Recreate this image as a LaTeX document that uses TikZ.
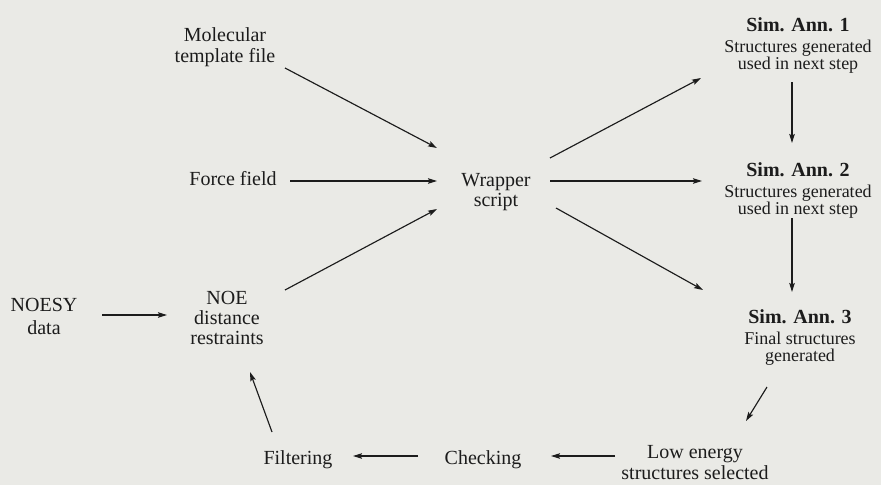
\documentclass[tikz,border=0pt]{standalone}
\usepackage{fontspec}
\setmainfont{Liberation Serif}
\usetikzlibrary{arrows.meta,calc}
\definecolor{paper}{RGB}{234,234,230}
\definecolor{ink}{RGB}{28,28,28}
% bold heading line of a simulated-annealing stage
\newcommand\simhead[1]{{\fontsize{20}{17}\selectfont\bfseries #1}\\[4pt]}
\begin{document}
\begin{tikzpicture}[x=1pt,y=-1pt,
  lbl/.style={inner sep=0pt, align=center, text=ink, font=\fontsize{20}{21}\selectfont},
  simbox/.style={inner sep=0pt, align=center, text=ink, font=\fontsize{18}{17}\selectfont},
  flow/.style={draw=ink, line width=1.15pt, -{Stealth[length=9pt,width=5.5pt,inset=1.5pt]}}]
\fill[paper] (0,0) rectangle (881,485);
\useasboundingbox (0,0) rectangle (881,485);

% inputs
\node[lbl] (mol)   at (225,47)  {Molecular\\template file};
\node[lbl] (ff)    at (233,179) {Force field};
\node[lbl] (noesy) at (44,316)  {NOESY\\[2pt]data};
\node[lbl] (noe)   at (227,318) {NOE\\[-1pt]distance\\[-1pt]restraints};
\node[lbl] (wrap)  at (496,192) {Wrapper\\[-1pt]script};

% annealing stages
\node[simbox] (sim1) at (798,45)  {\simhead{Sim. Ann. 1}Structures generated\\used in next step};
\node[simbox] (sim2) at (798,190) {\simhead{Sim. Ann. 2}Structures generated\\used in next step};
\node[simbox] (sim3) at (800,337) {\simhead{Sim. Ann. 3}Final structures\\generated};

% selection loop
\node[lbl] (low)   at (695,463) {Low energy\\structures selected};
\node[lbl] (check) at (483,460) {Checking};
\node[lbl] (filt)  at (298,460) {Filtering};

% connectors
\draw[flow] ($(mol)+(60,21)$)    -- ($(wrap)+(-59,-44)$);
\draw[flow] ($(ff)+(57,2)$)      -- ($(wrap)+(-59,-11)$);
\draw[flow] ($(noe)+(58,-28)$)   -- ($(wrap)+(-59,17)$);
\draw[flow] ($(noesy)+(58,-1)$)  -- ($(noe)+(-60,-3)$);
\draw[flow] ($(filt)+(-26,-28)$) -- ($(noe)+(23,54)$);
\draw[flow] ($(check)+(-65,-4)$) -- ($(filt)+(55,-4)$);
\draw[flow] ($(low)+(-80,-7)$)   -- ($(check)+(68,-4)$);
\draw[flow] ($(sim3)+(-33,50)$)  -- ($(low)+(51,-42)$);
\draw[flow] ($(sim2)+(-6,28)$)   -- ($(sim3)+(-8,-45)$);
\draw[flow] ($(sim1)+(-6,37)$)   -- ($(sim2)+(-6,-47)$);
\draw[flow] ($(wrap)+(54,-34)$)  -- ($(sim1)+(-97,33)$);
\draw[flow] ($(wrap)+(54,-11)$)  -- ($(sim2)+(-96,-9)$);
\draw[flow] ($(wrap)+(60,16)$)   -- ($(sim3)+(-97,-47)$);
\end{tikzpicture}
\end{document}
